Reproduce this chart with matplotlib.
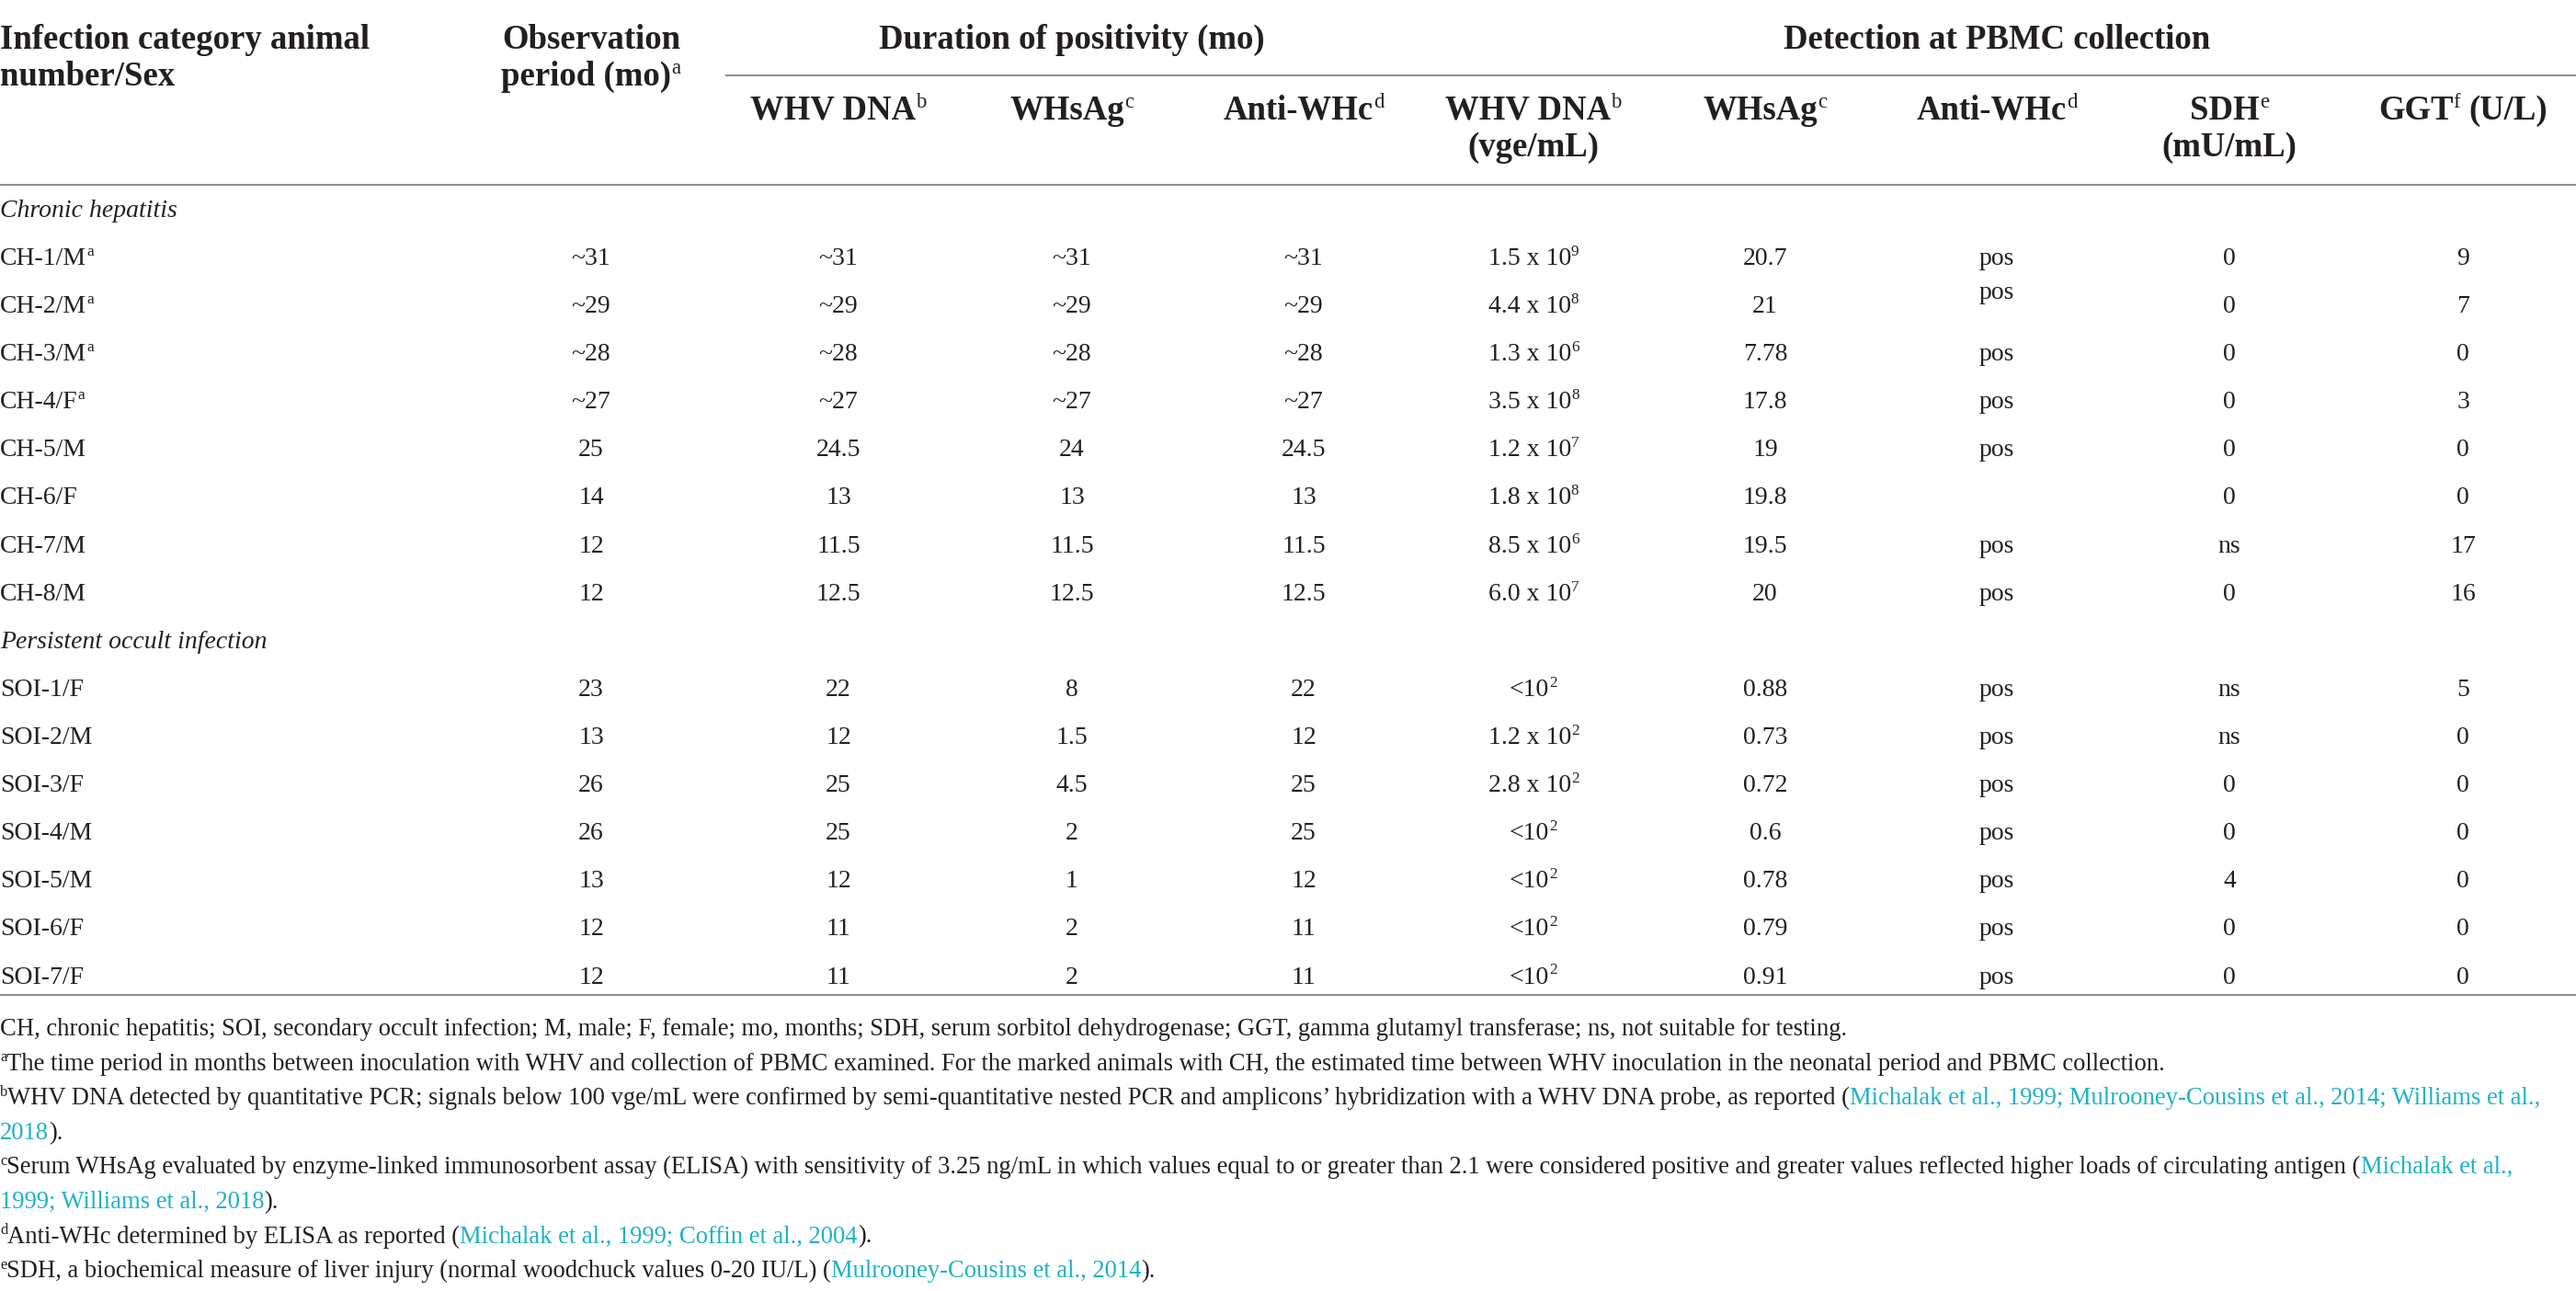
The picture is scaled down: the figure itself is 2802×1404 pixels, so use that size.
import matplotlib
matplotlib.use("Agg")
import matplotlib.pyplot as plt

# ---------------- data ----------------
col_headers_top = ["Infection category animal", "Observation", "Duration of positivity (mo)", "Detection at PBMC collection"]
col_headers_second = ["number/Sex", "period (mo)^a"]
sub_headers_1 = ["WHV DNA^b", "WHsAg^c", "Anti-WHc^d", "WHV DNA^b", "WHsAg^c", "Anti-WHc^d", "SDH^e", "GGT^f (U/L)"]
sub_headers_2 = ["", "", "", "(vge/mL)", "", "", "(mU/mL)", ""]

section_labels = ["Chronic hepatitis", "Persistent occult infection"]

ch_animals = ["CH-1/M^a", "CH-2/M^a", "CH-3/M^a", "CH-4/F^a", "CH-5/M", "CH-6/F", "CH-7/M", "CH-8/M"]
ch_obs = ["~31", "~29", "~28", "~27", "25", "14", "12", "12"]
ch_dna_dur = ["~31", "~29", "~28", "~27", "24.5", "13", "11.5", "12.5"]
ch_whsag_dur = ["~31", "~29", "~28", "~27", "24", "13", "11.5", "12.5"]
ch_anti_dur = ["~31", "~29", "~28", "~27", "24.5", "13", "11.5", "12.5"]
ch_dna_load = ["1.5 x 10^9", "4.4 x 10^8", "1.3 x 10^6", "3.5 x 10^8", "1.2 x 10^7", "1.8 x 10^8", "8.5 x 10^6", "6.0 x 10^7"]
ch_whsag = ["20.7", "21", "7.78", "17.8", "19", "19.8", "19.5", "20"]
ch_anti = ["pos", "pos", "pos", "pos", "pos", "", "pos", "pos"]
ch_sdh = ["0", "0", "0", "0", "0", "0", "ns", "0"]
ch_ggt = ["9", "7", "0", "3", "0", "0", "17", "16"]

soi_animals = ["SOI-1/F", "SOI-2/M", "SOI-3/F", "SOI-4/M", "SOI-5/M", "SOI-6/F", "SOI-7/F"]
soi_obs = ["23", "13", "26", "26", "13", "12", "12"]
soi_dna_dur = ["22", "12", "25", "25", "12", "11", "11"]
soi_whsag_dur = ["8", "1.5", "4.5", "2", "1", "2", "2"]
soi_anti_dur = ["22", "12", "25", "25", "12", "11", "11"]
soi_dna_load = ["<10^2", "1.2 x 10^2", "2.8 x 10^2", "<10^2", "<10^2", "<10^2", "<10^2"]
soi_whsag = ["0.88", "0.73", "0.72", "0.6", "0.78", "0.79", "0.91"]
soi_anti = ["pos", "pos", "pos", "pos", "pos", "pos", "pos"]
soi_sdh = ["ns", "ns", "0", "0", "4", "0", "0"]
soi_ggt = ["5", "0", "0", "0", "0", "0", "0"]

# footnotes: (text, kind) kind: n = normal, sup = superscript, link = citation colour
footnotes = [
    [("CH, chronic hepatitis; SOI, secondary occult infection; M, male; F, female; mo, months; SDH, serum sorbitol dehydrogenase; GGT, gamma glutamyl transferase; ns, not suitable for testing.", "n")],
    [("a", "sup"), ("The time period in months between inoculation with WHV and collection of PBMC examined. For the marked animals with CH, the estimated time between WHV inoculation in the neonatal period and PBMC collection.", "n")],
    [("b", "sup"), ("WHV DNA detected by quantitative PCR; signals below 100 vge/mL were confirmed by semi-quantitative nested PCR and amplicons\u2019 hybridization with a WHV DNA probe, as reported (", "n"),
     ("Michalak et al., 1999; Mulrooney-Cousins et al., 2014; Williams et al.,", "link")],
    [("2018", "link"), (").", "n")],
    [("c", "sup"), ("Serum WHsAg evaluated by enzyme-linked immunosorbent assay (ELISA) with sensitivity of 3.25 ng/mL in which values equal to or greater than 2.1 were considered positive and greater values reflected higher loads of circulating antigen (", "n"),
     ("Michalak et al.,", "link")],
    [("1999; Williams et al., 2018", "link"), (").", "n")],
    [("d", "sup"), ("Anti-WHc determined by ELISA as reported (", "n"), ("Michalak et al., 1999; Coffin et al., 2004", "link"), (").", "n")],
    [("e", "sup"), ("SDH, a biochemical measure of liver injury (normal woodchuck values 0-20 IU/L) (", "n"), ("Mulrooney-Cousins et al., 2014", "link"), (").", "n")],
]

# ---------------- layout / style ----------------
W, H = 2802, 1404
FAM = "Liberation Serif"
TXT = "#231f20"
LINK = "#1fb2c6"
RULE = "#8f8f8f"

fig = plt.figure(figsize=(W / 100, H / 100), dpi=100)
fig.patch.set_facecolor("white")
ax = fig.add_axes([0, 0, 1, 1])
ax.set_xlim(0, W)
ax.set_ylim(H, 0)
ax.axis("off")
renderer = fig.canvas.get_renderer()


def measure(s, size, weight="normal", style="normal"):
    t = ax.text(0, 0, s, fontsize=size, family=FAM, fontweight=weight, fontstyle=style)
    w = t.get_window_extent(renderer).width
    t.remove()
    return w


def space_w(size, weight="normal", style="normal"):
    return measure("a a", size, weight, style) - measure("aa", size, weight, style)


def parse(s):
    """turn 'abc^d rest' into segments"""
    if "^" not in s:
        return [(s, "n")]
    a, b = s.split("^", 1)
    sup = b[0]
    rest = b[1:]
    segs = [(a, "n"), (sup, "sup")]
    if rest:
        segs.append((rest, "n"))
    return segs


def rich(x, y, segs, size, ha="left", weight="normal", style="normal", sup_weight="normal"):
    items = []
    total = 0.0
    for text, kind in segs:
        sz = size * 0.62 if kind == "sup" else size
        wt = sup_weight if kind == "sup" else weight
        lead = len(text) - len(text.lstrip(" "))
        trail = len(text) - len(text.rstrip(" "))
        core = text.strip(" ")
        sp = space_w(sz, wt, style) if (lead or trail) else 0
        w = measure(core, sz, wt, style) if core else 0
        items.append((core, kind, sz, wt, lead * sp, w, trail * sp))
        total += lead * sp + w + trail * sp
    if ha == "center":
        pen = x - total / 2
    elif ha == "right":
        pen = x - total
    else:
        pen = x
    for core, kind, sz, wt, lw, w, tw in items:
        pen += lw
        if core:
            yy = y - size * 0.36 * 100 / 72 if kind == "sup" else y
            ax.text(pen, yy, core, fontsize=sz, family=FAM, fontweight=wt, fontstyle=style,
                    color=LINK if kind == "link" else TXT, va="baseline", ha="left")
        pen += w + tw


# font sizes fitted to the reference widths
HEAD = 26 * 464 / measure("Detection at PBMC collection", 26, "bold")
BODY = 20 * 193 / measure("Chronic hepatitis", 20, style="italic")
FOOT = 18 * 2014 / measure(footnotes[0][0][0], 18)

col_x = [0, 643, 912, 1166, 1418, 1668, 1920, 2172, 2425, 2679]
head_y1, head_y2 = 53, 93
sub_y1, sub_y2 = 130, 170
row0, row_step = 288, 52.1

# header rules
ax.plot([789, W], [82, 82], color=RULE, lw=1.5, solid_capstyle="butt")
ax.plot([0, W], [201, 201], color=RULE, lw=1.5, solid_capstyle="butt")
ax.plot([0, W], [1082, 1082], color=RULE, lw=1.5, solid_capstyle="butt")

# top header
rich(col_x[0], head_y1, parse(col_headers_top[0]), HEAD, weight="bold")
rich(col_x[0], head_y2, parse(col_headers_second[0]), HEAD, weight="bold")
rich(col_x[1], head_y1, parse(col_headers_top[1]), HEAD, ha="center", weight="bold")
rich(col_x[1], head_y2, parse(col_headers_second[1]), HEAD, ha="center", weight="bold")
rich(col_x[3], head_y1, parse(col_headers_top[2]), HEAD, ha="center", weight="bold")
rich(col_x[7], head_y1, parse(col_headers_top[3]), HEAD, ha="center", weight="bold")

for i, (h1, h2) in enumerate(zip(sub_headers_1, sub_headers_2)):
    cx = col_x[i + 2]
    rich(cx, sub_y1, parse(h1), HEAD, ha="center", weight="bold")
    if h2:
        rich(cx, sub_y2, parse(h2), HEAD, ha="center", weight="bold")


def row_y(k):
    return row0 + row_step * (k - 1)


def draw_group(start_k, label, animals, cols):
    rich(0, row_y(start_k), [(label, "n")], BODY, style="italic")
    for r, animal in enumerate(animals):
        k = start_k + 1 + r
        y = row_y(k)
        rich(0, y, parse(animal), BODY)
        for c, values in enumerate(cols):
            v = values[r]
            if not v:
                continue
            yy = y
            # the Anti-WHc entry of CH-2 is set higher in the reference
            if label == section_labels[0] and c == 6 and r == 1:
                yy = y - 15
            rich(col_x[c + 1], yy, parse(v), BODY, ha="center")


draw_group(0, section_labels[0], ch_animals,
           [ch_obs, ch_dna_dur, ch_whsag_dur, ch_anti_dur, ch_dna_load, ch_whsag, ch_anti, ch_sdh, ch_ggt])
draw_group(9, section_labels[1], soi_animals,
           [soi_obs, soi_dna_dur, soi_whsag_dur, soi_anti_dur, soi_dna_load, soi_whsag, soi_anti, soi_sdh, soi_ggt])

foot0, foot_step = 1126, 37.6
for i, segs in enumerate(footnotes):
    rich(0, foot0 + foot_step * i, segs, FOOT)

fig.savefig("out.png", dpi=100, facecolor="white")
